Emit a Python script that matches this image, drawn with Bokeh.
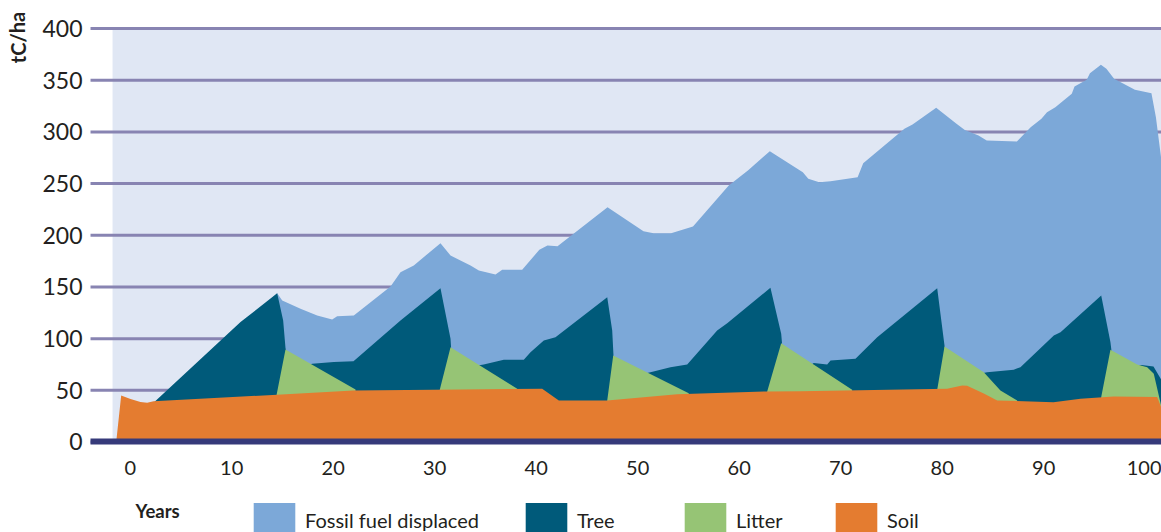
from bokeh.plotting import figure
from bokeh.models import Range1d, FixedTicker, BoxAnnotation, Label, Legend, LegendItem
from bokeh.embed import file_html
from bokeh.resources import INLINE

# ---------------- data ----------------
years_fossil = [-1.25, 14.48, 14.98, 16.78, 18.42, 19.90, 20.39, 22.03, 25.65, 26.63, 27.94,
                30.57, 31.56, 32.54, 33.53, 34.35, 35.99, 36.65, 38.62, 40.31, 41.11, 42.10,
                45.45, 47.03, 50.57, 51.56, 53.29, 55.45, 58.97, 60.86, 63.02, 66.27, 66.81,
                67.89, 69.0, 71.67, 72.22, 76.28, 77.08, 79.41, 81.41, 82.23, 83.58, 84.39,
                87.36, 88.72, 89.78, 90.33, 91.15, 91.69, 92.77, 93.04, 94.24, 94.56, 95.64,
                96.18, 96.94, 98.99, 100.62, 101.06, 101.61, 101.9]
fossil = [0, 144, 137, 128.9, 122.4, 118.5, 121.7, 122.4, 150.5, 164.3, 170.8,
          192.4, 180.5, 175.6, 170.8, 166, 162, 166.6, 166.6, 186, 190.1, 189.5,
          215, 227.2, 204, 202, 202, 208.5, 248.2, 262.7, 281.4, 261, 254.7,
          251.4, 252.3, 256.2, 269.8, 303, 307.2, 323.4, 307.9, 302, 296.6, 291.7,
          290.8, 304.6, 312.7, 319.1, 324, 328.2, 336.9, 344, 350.4, 356.9, 365,
          361.1, 351.4, 340.8, 337.5, 314.3, 272, 150]

years_tree = [2.30, 10.87, 14.48, 15.07, 15.30, 15.79, 17.93, 20.06, 22.00, 26.63, 30.57,
              31.56, 31.75, 34.83, 36.81, 38.78, 39.44, 40.75, 41.90, 47.00, 47.49, 47.62,
              47.82, 51.26, 53.23, 54.88, 57.83, 58.82, 63.08, 64.14, 64.27, 64.66, 67.35,
              68.67, 69.0, 71.46, 73.60, 79.51, 80.23, 80.52, 84.43, 87.05, 87.71, 91.0,
              91.66, 95.67, 96.58, 96.78, 98.06, 99.64, 100.82, 101.61]
tree = [38, 116, 144, 117.6, 91, 70, 75.7, 77.4, 78.2, 117.6, 148.8,
        100, 70, 75, 79.5, 79.5, 86.9, 98.2, 101.4, 140.1, 107.9, 83,
        60, 67.5, 72.4, 75, 107.9, 115, 149.2, 104.7, 90, 60, 76.3,
        75, 78.9, 80.5, 101.4, 148.8, 93.4, 60, 67.5, 69.9, 72.4, 103,
        106.2, 141.8, 96.6, 80, 72, 74.5, 73, 60]

years_litter = [14.32, 14.41, 15.30, 22.20, 22.30,
                30.42, 30.50, 31.56, 38.13, 38.21,
                46.93, 47.00, 47.59, 55.03, 55.10,
                62.69, 62.76, 64.14, 71.13, 71.21,
                79.44, 79.51, 80.23, 84.10, 85.74, 87.39, 87.47,
                95.60, 95.67, 96.58, 99.21, 100.20, 100.85, 101.61]
litter = [0, 45, 89.5, 50.8, 0,
          0, 50.5, 91.7, 51.5, 0,
          0, 40.2, 83.7, 47.2, 0,
          0, 48.9, 95.6, 50.5, 0,
          0, 50.5, 92.4, 67.5, 49.8, 40.2, 0,
          0, 43.4, 89.2, 75, 72.4, 66, 33.7]

years_soil = [-1.38, -0.89, 0.03, 1.01, 1.67, 2.30, 14.48, 22.00, 32.54, 40.59, 42.23,
              47.00, 53.89, 62.76, 66.04, 80.49, 81.97, 82.46, 84.10, 85.42, 90.96,
              93.63, 96.88, 101.18, 101.61]
soil = [0, 45, 41.5, 38.6, 37.9, 39.5, 45.7, 49.8, 50.8, 51.5, 40.2,
        40.2, 46.3, 48.9, 49.2, 51.5, 54.7, 54.5, 47, 40.2, 38.5,
        41.8, 44, 43.4, 33]

x_ticks = [0, 10, 20, 30, 40, 50, 60, 70, 80, 90, 100]
y_ticks = [0, 50, 100, 150, 200, 250, 300, 350, 400]

series_names = ["Fossil fuel displaced", "Tree", "Litter", "Soil"]
y_title = "tC/ha"
x_title = "Years"

# ---------------- style ----------------
FONT = "Lato"
TEXT = "#231f20"
C_FOSSIL = "#7ca8d8"
C_TREE = "#005a7a"
C_LITTER = "#96c475"
C_SOIL = "#e47c30"
C_GRID = "#8884b2"

X0, X1 = -12.78, 101.61      # visible year span across the canvas
AXIS_START = -3.91           # where grid lines and the zero line begin

p = figure(width=1161, height=532,
           x_range=Range1d(X0, X1), y_range=Range1d(-87.6, 427.2),
           output_backend="svg", toolbar_location=None, title=None,
           min_border_left=0, min_border_right=0, min_border_top=0, min_border_bottom=0)
p.outline_line_color = None
p.background_fill_color = "white"
p.border_fill_color = "white"
p.xgrid.visible = False
p.ygrid.visible = False

# light plot background
p.add_layout(BoxAnnotation(left=-1.74, bottom=0, top=400, fill_color="#e0e7f4",
                           fill_alpha=1, line_color=None, level="image"))

# horizontal grid lines at the y ticks, starting where the reference's do
p.segment(x0=AXIS_START, x1=X1 + 1, y0=y_ticks, y1=y_ticks,
          line_color=C_GRID, line_width=3)

r_f = p.varea(x=years_fossil, y1=0, y2=fossil, fill_color=C_FOSSIL)
r_t = p.varea(x=years_tree, y1=0, y2=tree, fill_color=C_TREE)
r_l = p.varea(x=years_litter, y1=0, y2=litter, fill_color=C_LITTER)
r_s = p.varea(x=years_soil, y1=0, y2=soil, fill_color=C_SOIL)

xt = FixedTicker(ticks=x_ticks)
yt = FixedTicker(ticks=y_ticks)

xa = p.xaxis[0]
xa.fixed_location = 0
xa.bounds = (AXIS_START, X1)
xa.ticker = xt
xa.axis_line_color = "#363a7a"
xa.axis_line_width = 6
xa.major_tick_line_color = None
xa.minor_tick_line_color = None
xa.major_tick_out = 0
xa.major_tick_in = 0
xa.major_label_standoff = 19
xa.major_label_text_font = FONT
xa.major_label_text_font_size = "20px"
xa.major_label_text_color = TEXT

ya = p.yaxis[0]
ya.fixed_location = AXIS_START
ya.ticker = yt
ya.axis_line_color = None
ya.major_tick_line_color = None
ya.minor_tick_line_color = None
ya.major_tick_out = 0
ya.major_tick_in = 0
ya.major_label_standoff = 8
ya.major_label_text_font = FONT
ya.major_label_text_font_size = "23px"
ya.major_label_text_color = TEXT

# thin white strip along the very left edge of the canvas (kept clean as in the reference)
p.add_layout(BoxAnnotation(left=X0 - 5, right=X0 + 0.45, bottom=-200, top=600,
                           fill_color="white", fill_alpha=1, line_color=None,
                           level="overlay"))

p.add_layout(Label(x=17, y=495, x_units="screen", y_units="screen", text=y_title,
                   angle=1.5708, text_align="center", text_baseline="middle",
                   text_font=FONT, text_font_style="bold", text_font_size="20px",
                   text_color=TEXT))
p.add_layout(Label(x=135, y=22, x_units="screen", y_units="screen", text=x_title,
                   text_align="left", text_baseline="middle",
                   text_font=FONT, text_font_style="bold", text_font_size="18.5px",
                   text_color=TEXT))

legend_x = [248, 520, 679, 830]
for name, r, lx in zip(series_names, [r_f, r_t, r_l, r_s], legend_x):
    lg = Legend(items=[LegendItem(label=name, renderers=[r])],
                orientation="horizontal", location=(lx, -10),
                glyph_width=52, glyph_height=44, label_standoff=5, spacing=0,
                padding=0, margin=0, border_line_alpha=0, background_fill_alpha=0,
                label_text_font=FONT, label_text_font_size="20px",
                label_text_color=TEXT)
    p.add_layout(lg)

open("out.html", "w").write(file_html(p, INLINE))
